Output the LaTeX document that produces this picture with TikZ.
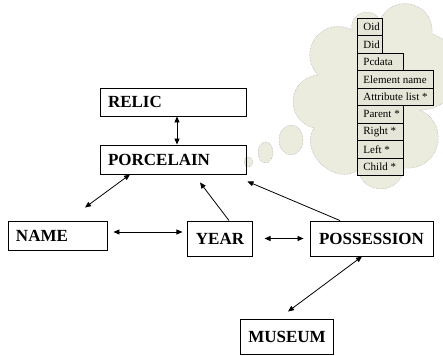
\documentclass[tikz,border=0pt]{standalone}
\usepackage{fontspec}
\setmainfont{Liberation Serif}
\usetikzlibrary{arrows.meta,positioning}
\definecolor{cloudfill}{HTML}{EBEBDE}
\definecolor{fieldfill}{HTML}{E6E6D8}
\tikzset{
  entity/.style={draw, line width=0.9pt, inner xsep=8pt, inner ysep=0pt,
    font=\bfseries\fontsize{17}{20}\selectfont},
  field/.style={draw, line width=0.8pt, fill=fieldfill, inner xsep=6pt, inner ysep=0pt,
    minimum height=17.45pt, anchor=north west, font=\fontsize{11}{12}\selectfont},
  cloudline/.style={draw=gray!70, densely dotted, line width=0.5pt, fill=cloudfill},
  puff/.style={bend left=80, looseness=1.5},
  link/.style={line width=0.8pt, {Triangle[length=6pt,width=5pt]}-{Triangle[length=6pt,width=5pt]}},
  tolink/.style={line width=0.8pt, -{Triangle[length=6pt,width=5pt]}}
}
\begin{document}
\begin{tikzpicture}[x=1pt,y=-1pt]
  \useasboundingbox (0,0) rectangle (443,355);
  % thought cloud with the stored fields
  \path[cloudline] (318,75) to[puff] (352,30) to[puff] (380,20)
    to[puff] (432,34) to[puff] (420,110) to[puff] (404,168)
    to[puff] (358,170) to[puff, looseness=1.2] (314,128) to[puff] (318,75) -- cycle;
  % bubbles leading to the cloud
  \path[cloudline] (248.5,162) ellipse [x radius=4.5, y radius=5];
  \path[cloudline] (265.5,152.5) ellipse [x radius=7.5, y radius=10.5];
  \path[cloudline] (291,140) ellipse [x radius=12, y radius=15];
  \foreach \fname/\ftext/\tw [count=\i] in {oid/Oid/13, did/Did/13, pcdata/Pcdata/34,
      elname/Element name/64, attlist/Attribute list */64, parent/Parent */34,
      rightptr/Right */34, leftptr/Left */34, child/Child */34}
    \node[field] (\fname) at (357,{18+17.45*(\i-1)}) {\makebox[\tw pt][l]{\ftext}};
  % entities
  \node[entity, minimum height=28pt, text width=130pt, align=left] (relic) at (173,102) {RELIC};
  \node[entity, minimum height=29pt, text width=130pt, align=left] (porcelain) at (173,159.5) {PORCELAIN};
  \node[entity, minimum height=29pt, text width=83pt, align=left] (name) at (57.5,235.5) {NAME};
  \node[entity, minimum height=35pt, minimum width=64pt] (year) at (220,238.5) {YEAR};
  \node[entity, minimum height=35pt, minimum width=123pt] (possession) at (371.5,238.5) {POSSESSION};
  \node[entity, minimum height=35pt, minimum width=92pt] (museum) at (287,336.5) {MUSEUM};
  % relations
  \draw[link] ([xshift=4pt]relic.south) -- ([xshift=4pt]porcelain.north);
  \draw[link] ([xshift=-43pt]porcelain.south) -- ([xshift=27.5pt,yshift=13pt]name.north);
  \draw[tolink] ([xshift=9pt]year.north) -- ([xshift=27pt,yshift=-8pt]porcelain.south);
  \draw[tolink] ([xshift=-31.5pt]possession.north) -- ([xshift=1pt,yshift=-7pt]porcelain.south east);
  \draw[link] ([xshift=6pt,yshift=3.5pt]name.east) -- ([xshift=-5pt,yshift=6.5pt]year.west);
  \draw[link] ([xshift=12pt]year.east) -- ([xshift=-6pt]possession.west);
  \draw[link] ([xshift=-9.5pt]possession.south) -- ([xshift=1pt,yshift=7pt]museum.north);
\end{tikzpicture}
\end{document}
